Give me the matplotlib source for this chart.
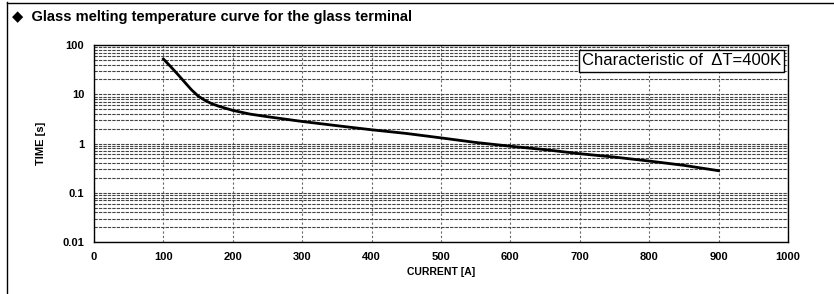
import matplotlib
matplotlib.use("Agg")
import matplotlib.pyplot as plt
from matplotlib.lines import Line2D
from matplotlib.ticker import FixedLocator, LogLocator, NullFormatter

#Data
current = [100, 110, 120, 130, 140, 150, 160, 170, 180, 200, 225, 250, 300, 350, 400,
           450, 500, 550, 600, 650, 700, 750, 800, 850, 900]
time_s = [52, 37, 26, 18, 12.5, 9.2, 7.5, 6.4, 5.7, 4.7, 3.95, 3.5, 2.8, 2.3, 1.9,
          1.6, 1.3, 1.05, 0.88, 0.75, 0.62, 0.53, 0.44, 0.36, 0.28]
x_ticks = [0, 100, 200, 300, 400, 500, 600, 700, 800, 900, 1000]
y_ticks = [0.01, 0.1, 1, 10, 100]
y_labels = ["0.01", "0.1", "1", "10", "100"]

plt.rcParams['font.family'] = ['Liberation Sans', 'DejaVu Sans']

fig = plt.figure(figsize=(8.34, 2.94), dpi=100)
ax = fig.add_axes([94/834, 1-242/294, (788-94)/834, (242-45)/294])

#Curve
ax.plot(current, time_s, color="black", lw=2.0)

ax.set_yscale("log")
ax.set_xlim(0, 1000)
ax.set_ylim(0.01, 100)
ax.xaxis.set_major_locator(FixedLocator(x_ticks))
ax.set_yticks(y_ticks)
ax.set_yticklabels(y_labels)
ax.yaxis.set_minor_locator(LogLocator(base=10, subs=range(2, 10)))
ax.yaxis.set_minor_formatter(NullFormatter())
ax.tick_params(which="both", length=0, labelsize=8, pad=7)
for lab in ax.get_xticklabels() + ax.get_yticklabels():
    lab.set_fontweight("bold")

#Grid like the scanned sheet
ax.grid(True, which="major", axis="x", color="#666666", ls=(0, (2, 2)), lw=0.8)
ax.grid(True, which="both", axis="y", color="#444444", ls=(0, (3, 1)), lw=0.8)
for s in ax.spines.values():
    s.set_linewidth(1.0)

ax.set_xlabel("CURRENT [A]", fontsize=7.5, fontweight="bold", labelpad=4)
ax.set_ylabel("TIME [s]", fontsize=8, fontweight="bold", labelpad=12)

ax.text(0.99, 0.92, "Characteristic of  \u0394T=400K", transform=ax.transAxes,
        ha="right", va="center", fontsize=12,
        bbox=dict(boxstyle="square,pad=0.2", fc="white", ec="black", lw=1.0))

fig.text(12/834, 1-17/294, "\u25c6  Glass melting temperature curve for the glass terminal",
         ha="left", va="center", fontsize=10.5, fontweight="bold")

#Page frame
fig.add_artist(Line2D([7/834, 7/834], [0, 1-2/294], color="black", lw=1.0))
fig.add_artist(Line2D([7/834, 1], [1-3/294, 1-3/294], color="black", lw=1.0))

fig.savefig("out.png", dpi=100)
